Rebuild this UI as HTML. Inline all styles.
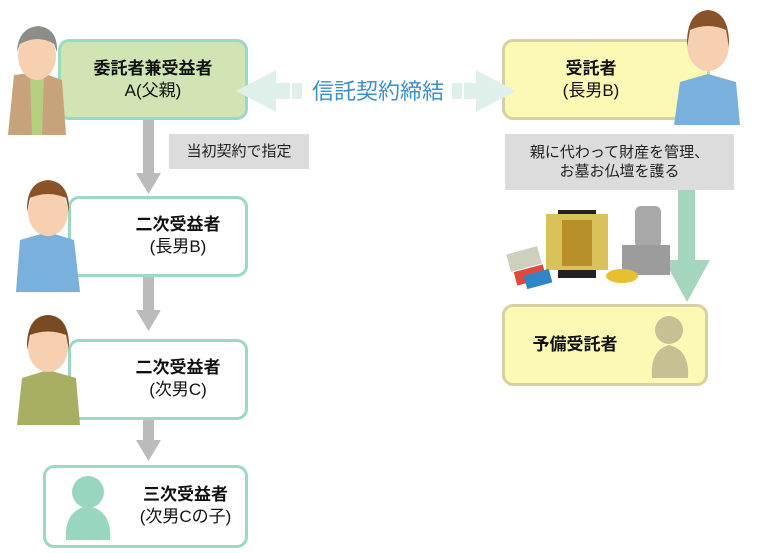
<!DOCTYPE html>
<html><head><meta charset="utf-8">
<style>
body{margin:0;width:760px;height:553px;background:#fff;position:relative;overflow:hidden;font-family:"Liberation Sans","Noto Sans CJK JP",sans-serif;}
.b{position:absolute;box-sizing:border-box;border:3px solid #9dd8c4;border-radius:11px;background:#fff;text-align:center;font-size:17px;color:#111;line-height:22px;}
.b b{font-weight:bold;}
.lbl{position:absolute;background:#dcdcdc;color:#222;font-size:15px;text-align:center;}
svg{position:absolute;left:0;top:0;}
</style></head><body>
<div class="b" style="left:58px;top:39px;width:190px;height:81px;background:#d0e4b4;padding-top:16px;"><b>委託者兼受益者</b><br>A(父親)</div>
<div class="b" style="left:68px;top:196px;width:180px;height:81px;padding-top:15px;padding-left:40px;"><b>二次受益者</b><br>(長男B)</div>
<div class="b" style="left:68px;top:339px;width:180px;height:81px;padding-top:15px;padding-left:40px;"><b>二次受益者</b><br>(次男C)</div>
<div class="b" style="left:43px;top:465px;width:205px;height:83px;padding-top:16px;padding-left:80px;"><b>三次受益者</b><br>(次男Cの子)</div>
<div class="b" style="left:502px;top:39px;width:208px;height:81px;background:#fcf9b5;border-color:#d5d1a2;padding-top:16px;padding-right:30px;"><b>受託者</b><br>(長男B)</div>
<div class="b" style="left:502px;top:304px;width:206px;height:82px;background:#fcf9b5;border-color:#d5d1a2;padding-top:27px;padding-right:60px;"><b>予備受託者</b></div>
<div class="lbl" style="left:169px;top:134px;width:140px;height:35px;line-height:35px;">当初契約で指定</div>
<svg width="760" height="553">
<g fill="#bbb">
<rect x="143" y="120" width="11" height="55"/><polygon points="136,173 161,173 148.5,194"/>
<rect x="143" y="277" width="11" height="35"/><polygon points="136,310 161,310 148.5,331"/>
<rect x="143" y="420" width="11" height="22"/><polygon points="136,440 161,440 148.5,461"/>
</g>
<rect x="678" y="190" width="17" height="70" fill="#a4d6bd"/>
<polygon points="664,260 710,260 687,302" fill="#a4d6bd"/>
<g fill="#dff0ea">
<polygon points="236,91 276,70 276,112"/>
<rect x="276" y="83" width="14" height="16"/><rect x="292" y="83" width="10" height="16"/>
<rect x="452" y="83" width="10" height="16"/><rect x="464" y="83" width="14" height="16"/>
<polygon points="516,91 476,70 476,112"/>
</g>
<text x="378" y="99" font-size="22" fill="#3a8fca" text-anchor="middle" font-family="Liberation Sans,Noto Sans CJK JP,sans-serif">信託契約締結</text>
<g>
<path d="M8,135 L14,75 L40,72 L62,80 L66,135 Z" fill="#c8a27a"/>
<path d="M30,78 L44,78 L42,135 L32,135 Z" fill="#b4cf7e"/>
<ellipse cx="37" cy="56" rx="19" ry="24" fill="#f6d0b0"/>
<path d="M17,52 Q18,28 38,26 Q58,28 57,52 L54,44 Q38,34 20,44 Z" fill="#8d8d88"/>
</g>
<g>
<path d="M16,292 L20,240 L48,232 L74,240 L80,292 Z" fill="#7ab0dc"/>
<ellipse cx="48" cy="212" rx="20" ry="24" fill="#f6d0b0"/>
<path d="M27,212 Q26,182 48,180 Q70,182 69,212 L66,198 Q48,190 30,198 Z" fill="#8a5228"/>
</g>
<g>
<path d="M17,425 L22,378 L48,370 L76,378 L80,425 Z" fill="#a8ae62"/>
<ellipse cx="48" cy="348" rx="20" ry="24" fill="#f6d0b0"/>
<path d="M27,350 Q26,316 48,315 Q70,316 69,350 L66,335 Q48,328 30,335 Z" fill="#7a4a22"/>
</g>
<g fill="#98d6c0">
<circle cx="88" cy="492" r="16"/>
<path d="M66,540 Q64,510 88,506 Q112,510 110,540 Z"/>
</g>
<g>
<path d="M674,125 L680,82 L708,74 L736,82 L740,125 Z" fill="#7ab0dc"/>
<ellipse cx="708" cy="45" rx="21" ry="26" fill="#f6d0b0"/>
<path d="M687,47 Q686,12 708,10 Q730,12 729,47 L726,30 Q708,22 690,30 Z" fill="#8a5228"/>
</g>
<g fill="#c7c095">
<circle cx="669" cy="330" r="14"/>
<path d="M652,378 Q650,350 669,345 Q690,350 688,378 Z"/>
</g>
<rect x="558" y="210" width="38" height="68" fill="#222"/>
<rect x="546" y="214" width="62" height="56" fill="#d9c25a"/>
<rect x="562" y="220" width="30" height="46" fill="#b8902a"/>
<rect x="635" y="206" width="26" height="42" fill="#a8a8a8" rx="6"/>
<rect x="622" y="245" width="48" height="30" fill="#9c9c9c"/>
<rect x="508" y="250" width="32" height="18" fill="#cfcfbf" transform="rotate(-15 524 259)"/>
<rect x="515" y="268" width="30" height="14" fill="#e04a3a" transform="rotate(-15 530 275)"/>
<rect x="525" y="272" width="26" height="14" fill="#2f86c6" transform="rotate(-15 538 279)"/>
<ellipse cx="622" cy="276" rx="16" ry="7" fill="#e6c02e"/>
</svg>
<div class="lbl" style="left:505px;top:134px;width:229px;height:56px;line-height:19px;padding-top:9px;box-sizing:border-box;">親に代わって財産を管理、<br>お墓お仏壇を護る</div>
</body></html>
